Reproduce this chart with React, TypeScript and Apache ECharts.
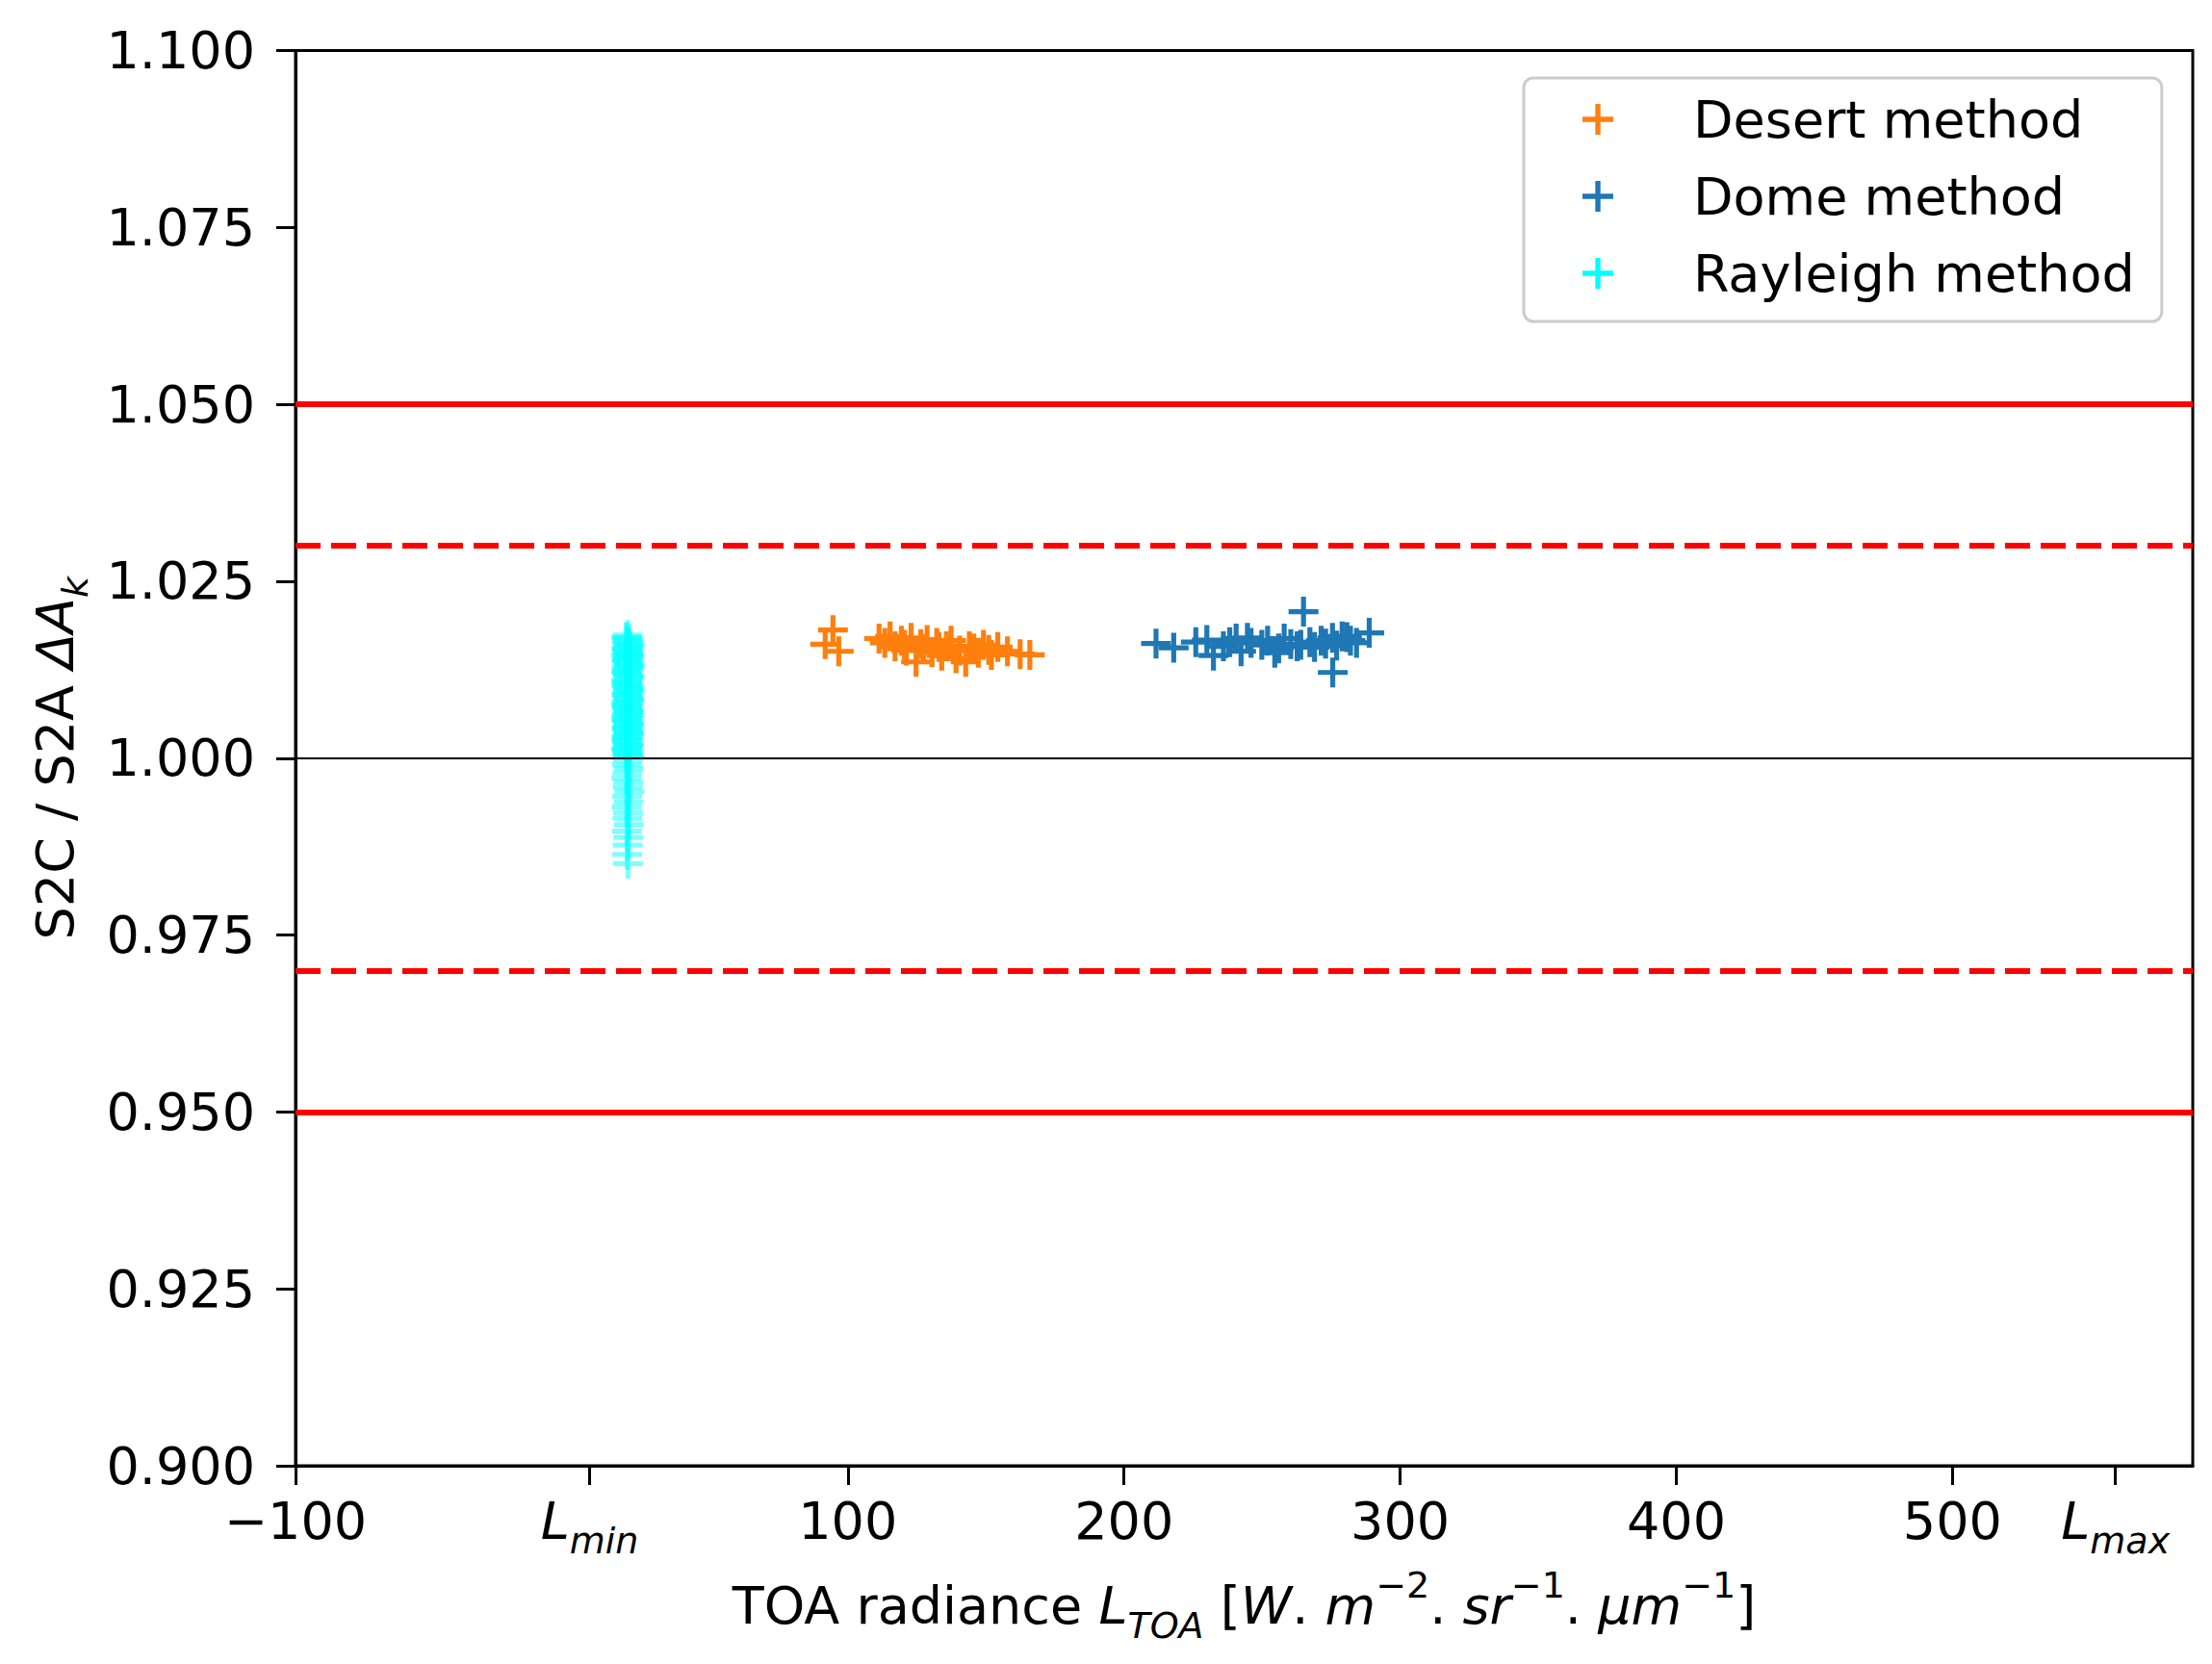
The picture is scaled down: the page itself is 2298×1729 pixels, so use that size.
import React, { useEffect, useRef } from 'react';
import * as echarts from 'echarts';

const FONT = 'DejaVu Sans';
const PLUS = 'path://M12.5,0h5v12.5h12.5v5h-12.5v12.5h-5v-12.5h-12.5v-5h12.5z';

// x ticks: Lmin / Lmax are drawn as symbols in the reference
const xTickValues = [-100, 6.5, 100, 200, 300, 400, 500, 559];
const xTickLabels = ['\u2212100', '{i|L}{s|min}', '100', '200', '300', '400', '500', '{i|L}{s|max}'];

const limitLines = [1.05, 0.95];
const warnLines = [1.03, 0.97];
const unityLine = [1.0];

const seriesNames = ['Desert method', 'Dome method', 'Rayleigh method'];

const desertPoints: [number, number][] = [
  [91.8, 1.0161], [94.6, 1.0181], [96.7, 1.0151],
  [111.3, 1.0169], [113.4, 1.0163], [115.3, 1.0172], [117.1, 1.0158], [119.4, 1.0166],
  [120.5, 1.0160], [121.2, 1.0152], [122.9, 1.0170], [124.7, 1.0136], [126.4, 1.0161],
  [127.5, 1.0154], [128.7, 1.0167], [130.5, 1.0150], [132.2, 1.0163], [133.0, 1.0157],
  [134.0, 1.0145], [135.7, 1.0158], [137.4, 1.0166], [139.2, 1.0141], [140.5, 1.0152],
  [142.7, 1.0136], [144.0, 1.0158], [145.6, 1.0155], [147.3, 1.0149], [149.1, 1.0160],
  [151.0, 1.0153], [152.0, 1.0146], [154.3, 1.0157], [157.8, 1.0151], [162.4, 1.0147],
  [165.9, 1.0146],
];

const domePoints: [number, number][] = [
  [211.6, 1.0162], [218.0, 1.0156], [226.0, 1.0164], [230.0, 1.0167], [232.4, 1.0145],
  [236.0, 1.0158], [238.3, 1.0164], [240.6, 1.0169], [242.4, 1.0151], [244.7, 1.0170],
  [246.0, 1.0163], [249.9, 1.0160], [252.0, 1.0166], [254.6, 1.0149], [256.0, 1.0155],
  [258.0, 1.0169], [260.4, 1.0161], [262.7, 1.0158], [264.0, 1.0160], [265.0, 1.0207],
  [267.3, 1.0164], [269.0, 1.0157], [271.4, 1.0166], [273.0, 1.0162], [275.5, 1.0170],
  [275.6, 1.0121], [277.0, 1.0159], [279.0, 1.0172], [280.7, 1.0171], [282.0, 1.0166],
  [284.2, 1.0163], [288.8, 1.0177],
];

const rayleighPoints: [number, number][] = [
  [20.3, 1.0174], [20.1, 1.0170], [19.7, 1.0171], [20.8, 1.0167], [20.4, 1.0163],
  [19.9, 1.0165], [20.6, 1.0161], [20.2, 1.0157], [21.0, 1.0159], [19.8, 1.0154],
  [20.5, 1.0151], [20.1, 1.0155], [20.7, 1.0148], [19.6, 1.0146], [20.3, 1.0149],
  [20.9, 1.0143], [20.0, 1.0141], [20.4, 1.0144], [19.8, 1.0137], [20.6, 1.0135],
  [20.2, 1.0139], [21.1, 1.0131], [19.9, 1.0129], [20.5, 1.0133], [20.3, 1.0126],
  [19.7, 1.0123], [20.8, 1.0127], [20.1, 1.0119], [20.6, 1.0117], [20.0, 1.0121],
  [20.4, 1.0113], [19.8, 1.0110], [20.9, 1.0115], [20.2, 1.0107], [20.7, 1.0104],
  [19.9, 1.0108], [20.3, 1.0101], [20.5, 1.0098], [19.7, 1.0102], [21.0, 1.0095],
  [20.1, 1.0092], [20.4, 1.0096], [19.8, 1.0089], [20.6, 1.0086], [20.2, 1.0090],
  [20.9, 1.0083], [20.0, 1.0080], [20.5, 1.0084], [19.6, 1.0077], [20.3, 1.0074],
  [20.8, 1.0078], [20.1, 1.0071], [20.6, 1.0068], [19.9, 1.0072], [20.4, 1.0065],
  [20.0, 1.0062], [20.7, 1.0066], [19.8, 1.0059], [20.3, 1.0056], [21.0, 1.0060],
  [20.2, 1.0053], [20.5, 1.0050], [19.7, 1.0054], [20.9, 1.0047], [20.1, 1.0044],
  [20.4, 1.0048], [19.9, 1.0041], [20.6, 1.0038], [20.2, 1.0042], [20.8, 1.0035],
  [20.0, 1.0032], [20.5, 1.0036], [19.8, 1.0029], [20.3, 1.0026], [20.7, 1.0030],
  [20.1, 1.0023], [20.6, 1.0020], [19.9, 1.0024], [20.4, 1.0017], [20.0, 1.0014],
  [20.8, 1.0018], [20.2, 1.0011], [20.5, 1.0008], [19.7, 1.0012], [20.3, 1.0005],
  [20.9, 1.0002], [20.1, 1.0006],
  [20.4, 0.9997], [20.0, 0.9991], [20.7, 0.9985], [20.2, 0.9979], [19.8, 0.9972],
  [20.5, 0.9966], [20.3, 0.9959], [20.9, 0.9953], [20.1, 0.9946], [20.6, 0.9938],
  [19.9, 0.9931], [20.4, 0.9923], [20.2, 0.9915], [20.7, 0.9906], [20.0, 0.9897],
  [20.5, 0.9888], [20.3, 0.9877], [20.1, 0.9864], [20.4, 0.9851],
];

const seriesColors = ['#ff7f0e', '#1f77b4', '#00ffff'];

const Chart: React.FC = () => {
  const chartRef = useRef<HTMLDivElement>(null);

  useEffect(() => {
    const chart = echarts.init(chartRef.current, null, { renderer: 'svg' });

    const mainRich = {
      i: { fontStyle: 'italic', fontSize: 54, lineHeight: 80, fontFamily: FONT },
      s: { fontStyle: 'italic', fontSize: 38, lineHeight: 48, verticalAlign: 'bottom', fontFamily: FONT },
      sub: { fontStyle: 'italic', fontSize: 38, lineHeight: 48, verticalAlign: 'bottom', fontFamily: FONT },
      sup: { fontSize: 38, lineHeight: 56, verticalAlign: 'top', fontFamily: FONT },
    };

    const markData: any[] = [
      ...limitLines.map(v => ({ yAxis: v, lineStyle: { color: '#ff0000', width: 6, type: 'solid' } })),
      ...warnLines.map(v => ({ yAxis: v, lineStyle: { color: '#ff0000', width: 6, type: [26, 11] } })),
      ...unityLine.map(v => ({ yAxis: v, lineStyle: { color: '#000000', width: 2, type: 'solid' } })),
    ];

    const pointSets = [desertPoints, domePoints, rayleighPoints];

    const option = {
      animation: false,
      textStyle: { fontFamily: FONT },
      grid: {
        left: 307,
        right: 20,
        top: 52.5,
        bottom: 206,
        show: true,
        borderColor: '#000',
        borderWidth: 3,
        backgroundColor: 'transparent',
      },
      legend: {
        data: seriesNames,
        orient: 'vertical',
        left: 1583,
        top: 81,
        icon: PLUS,
        itemWidth: 32,
        itemHeight: 32,
        itemGap: 20,
        padding: [13, 28, 20, 61],
        borderColor: '#cccccc',
        borderWidth: 3,
        borderRadius: 10,
        backgroundColor: '#ffffff',
        itemStyle: { opacity: 1 },
        selectedMode: false,
        textStyle: {
          fontSize: 54,
          lineHeight: 60,
          color: '#000',
          fontFamily: FONT,
          padding: [0, 0, 0, 78],
        },
      },
      xAxis: {
        type: 'value',
        min: -100,
        max: 587,
        name: 'TOA radiance {i|L}{sub|TOA} [{i|W}. {i|m}{sup|\u22122}. {i|sr}{sup|\u22121}. {i|\u03bcm}{sup|\u22121}]',
        nameLocation: 'middle',
        nameGap: 105,
        nameTextStyle: {
          fontSize: 54,
          lineHeight: 80,
          color: '#000',
          fontFamily: FONT,
          rich: mainRich,
        },
        axisLine: { show: true, onZero: false, lineStyle: { color: '#000', width: 3 } },
        axisTick: {
          show: true,
          length: 20,
          customValues: xTickValues,
          lineStyle: { color: '#000', width: 3 },
        },
        axisLabel: {
          customValues: xTickValues,
          margin: 17,
          fontSize: 54,
          lineHeight: 80,
          color: '#000',
          fontFamily: FONT,
          rich: mainRich,
          formatter: (value: number) => {
            const idx = xTickValues.findIndex(t => Math.abs(t - value) < 1e-6);
            return idx >= 0 ? xTickLabels[idx] : '';
          },
        },
        splitLine: { show: false },
      },
      yAxis: {
        type: 'value',
        min: 0.9,
        max: 1.1,
        interval: 0.025,
        name: 'S2C / S2A {i|\u0394A}{sub|k}',
        nameLocation: 'middle',
        nameGap: 210,
        nameTextStyle: {
          fontSize: 54,
          lineHeight: 80,
          color: '#000',
          fontFamily: FONT,
          rich: mainRich,
        },
        axisLine: { show: true, onZero: false, lineStyle: { color: '#000', width: 3 } },
        axisTick: { show: true, length: 20, lineStyle: { color: '#000', width: 3 } },
        axisLabel: {
          margin: 42,
          fontSize: 54,
          color: '#000',
          fontFamily: FONT,
          formatter: (value: number) => value.toFixed(3),
        },
        splitLine: { show: false },
      },
      series: [
        ...seriesNames.map((name, i) => ({
          name,
          type: 'scatter',
          data: pointSets[i],
          symbol: PLUS,
          symbolSize: 31,
          itemStyle: { color: seriesColors[i], opacity: i === 2 ? 0.5 : 1 },
          emphasis: { disabled: true },
          z: 2,
        })),
        {
          name: 'reference',
          type: 'scatter',
          data: [],
          z: 4,
          markLine: {
            silent: true,
            symbol: ['none', 'none'],
            label: { show: false },
            data: markData,
          },
        },
      ],
    };

    chart.setOption(option as any);

    return () => {
      chart.dispose();
    };
  }, []);

  return (
    <div
      ref={chartRef}
      style={{ position: 'absolute', left: 0, top: 0, width: '2298px', height: '1729px', background: '#fff' }}
    />
  );
};

export default function App() {
  return <Chart />;
}
